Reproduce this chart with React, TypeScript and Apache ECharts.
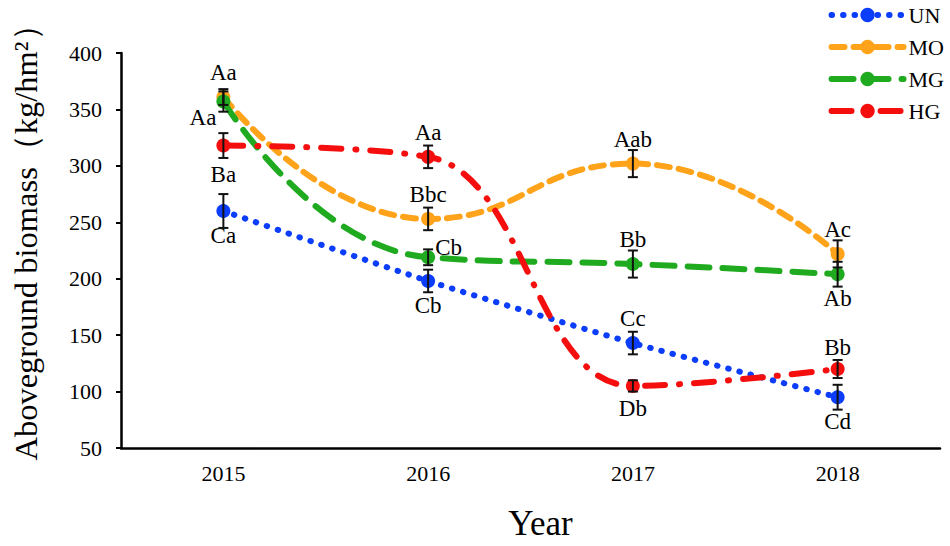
import React, { useEffect, useRef } from "react";
import * as echarts from "echarts";

const years = ["2015", "2016", "2017", "2018"];
const seriesNames = ["UN", "MO", "MG", "HG"];
const unValues = [260, 198, 143, 95];
const moValues = [361, 253, 302, 222];
const mgValues = [357, 219, 213, 204];
const hgValues = [318, 308, 105, 120];
const unErrors = [15, 10, 10, 11];
const moErrors = [7, 10, 12, 12];
const mgErrors = [9, 7, 12, 11];
const hgErrors = [11, 10, 5, 8];
const unLetters = ["Ca", "Cb", "Cc", "Cd"];
const moLetters = ["Aa", "Bbc", "Aab", "Ac"];
const mgLetters = ["Aa", "Cb", "Bb", "Ab"];
const hgLetters = ["Ba", "Aa", "Db", "Bb"];
const yTicks = { min: 50, max: 400, interval: 50 };

const FONT = "'Liberation Serif', 'Times New Roman', serif";

type Place = { position: string; distance?: number; offset?: number[] };

const placements: Record<string, Place[]> = {
  UN: [
    { position: "bottom" },
    { position: "bottom" },
    { position: "top" },
    { position: "bottom" },
  ],
  MO: [
    { position: "top", distance: 6 },
    { position: "top" },
    { position: "top" },
    { position: "top" },
  ],
  MG: [
    { position: "left", distance: 0, offset: [0, 16] },
    { position: "right", distance: 0, offset: [0, -10] },
    { position: "top" },
    { position: "bottom" },
  ],
  HG: [
    { position: "bottom", distance: 10 },
    { position: "top" },
    { position: "bottom", distance: 4 },
    { position: "top", distance: 3 },
  ],
};

const colors: Record<string, string> = {
  UN: "#0b3dfa",
  MO: "#ffa31a",
  MG: "#1faa1f",
  HG: "#f50e0e",
};

const lineTypes: Record<string, any> = {
  UN: [0.5, 11],
  MO: [13, 9],
  MG: [22, 13],
  HG: [20, 14, 1, 14],
};

const smoothness: Record<string, number | boolean> = {
  UN: 0.2,
  MO: 0.5,
  MG: 0.5,
  HG: 0.4,
};

export default function App() {
  const ref = useRef<HTMLDivElement>(null);

  useEffect(() => {
    if (!ref.current) return;
    const chart = echarts.init(ref.current, null, { renderer: "svg" });

    const valuesMap: Record<string, number[]> = {
      UN: unValues,
      MO: moValues,
      MG: mgValues,
      HG: hgValues,
    };
    const errorsMap: Record<string, number[]> = {
      UN: unErrors,
      MO: moErrors,
      MG: mgErrors,
      HG: hgErrors,
    };
    const lettersMap: Record<string, string[]> = {
      UN: unLetters,
      MO: moLetters,
      MG: mgLetters,
      HG: hgLetters,
    };

    const errorData: number[][] = [];
    seriesNames.forEach((n) => {
      valuesMap[n].forEach((v, i) => {
        errorData.push([i, v, errorsMap[n][i]]);
      });
    });

    const lineSeries = seriesNames.map((n, si) => ({
      type: "line",
      name: n,
      z: 3 + si,
      smooth: smoothness[n],
      symbol: "circle",
      symbolSize: 14,
      showSymbol: true,
      itemStyle: { color: colors[n] },
      lineStyle: {
        color: colors[n],
        width: 6,
        type: lineTypes[n],
        cap: "round",
      },
      label: {
        show: true,
        color: "#000",
        fontFamily: FONT,
        fontSize: 23,
        formatter: (p: any) => lettersMap[n][p.dataIndex],
      },
      data: valuesMap[n].map((v, i) => {
        const pl = placements[n][i];
        return {
          value: v,
          label: {
            position: pl.position,
            distance: pl.distance ?? 6,
            offset: pl.offset ?? [0, 0],
          },
        };
      }),
    }));

    const errorSeries = {
      type: "custom",
      z: 10,
      silent: true,
      renderItem: (params: any, api: any) => {
        const idx = api.value(0);
        const v = api.value(1);
        const e = api.value(2);
        const top = api.coord([idx, v + e]);
        const bot = api.coord([idx, v - e]);
        const hw = 5;
        const style = { stroke: "#111", lineWidth: 2 };
        return {
          type: "group",
          children: [
            { type: "line", shape: { x1: top[0], y1: top[1], x2: bot[0], y2: bot[1] }, style },
            { type: "line", shape: { x1: top[0] - hw, y1: top[1], x2: top[0] + hw, y2: top[1] }, style },
            { type: "line", shape: { x1: bot[0] - hw, y1: bot[1], x2: bot[0] + hw, y2: bot[1] }, style },
          ],
        };
      },
      encode: { x: 0, y: 1 },
      data: errorData,
    };

    chart.setOption({
      animation: false,
      backgroundColor: "#fff",
      textStyle: { fontFamily: FONT },
      grid: { left: 121, right: 10, top: 53, bottom: 98, containLabel: false },
      legend: {
        data: seriesNames,
        orient: "vertical",
        right: 6,
        top: 4,
        padding: 0,
        itemWidth: 72,
        itemHeight: 18,
        itemGap: 10,
        lineStyle: { width: 6, cap: "round" },
        textStyle: { fontFamily: FONT, fontSize: 22, color: "#000" },
      },
      xAxis: {
        type: "category",
        data: years,
        boundaryGap: true,
        axisLine: { lineStyle: { color: "#000", width: 2.5 } },
        axisTick: { alignWithLabel: true, length: 4, lineStyle: { color: "#000", width: 2 } },
        axisLabel: { color: "#000", fontFamily: FONT, fontSize: 22, margin: 14 },
        name: "Year",
        nameLocation: "middle",
        nameGap: 58,
        nameTextStyle: { color: "#000", fontFamily: FONT, fontSize: 35, padding: [0, 0, 0, 20] },
      },
      yAxis: {
        type: "value",
        min: yTicks.min,
        max: yTicks.max,
        interval: yTicks.interval,
        splitLine: { show: false },
        axisLine: { show: true, lineStyle: { color: "#000", width: 2.5 } },
        axisTick: { show: true, length: 5, lineStyle: { color: "#000", width: 2 } },
        axisLabel: { color: "#000", fontFamily: FONT, fontSize: 22, margin: 19 },
        name: "Aboveground biomass（kg/hm²）",
        nameLocation: "middle",
        nameGap: 79,
        nameTextStyle: { color: "#000", fontFamily: FONT, fontSize: 32.5, padding: [0, 0, 0, 32] },
      },
      series: [...lineSeries, errorSeries],
    });

    return () => chart.dispose();
  }, []);

  return (
    <div
      ref={ref}
      style={{ position: "fixed", left: 0, top: 0, width: 950, height: 546 }}
    />
  );
}
